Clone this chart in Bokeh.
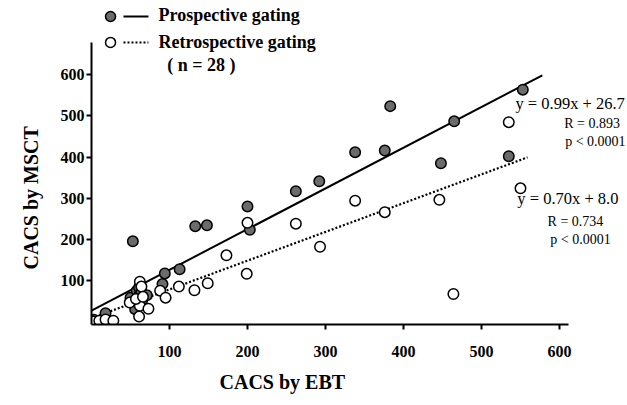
from bokeh.plotting import figure
from bokeh.models import Range1d, FixedTicker, Title
from bokeh.embed import file_html
from bokeh.resources import INLINE
from bokeh.core.properties import value

# ---- data ----
pro_x = [3, 10, 18, 50, 56, 58, 61, 61, 64, 65, 71, 53, 91, 94, 113, 133, 148,
         200, 203, 262, 292, 338, 376, 383, 448, 465, 535, 553]
pro_y = [4, 2, 20, 58, 30, 75, 83, 63, 70, 52, 64, 195, 91, 117, 127, 232, 234,
         280, 223, 317, 341, 412, 416, 524, 385, 487, 402, 564]

retro_x = [2, 10, 18, 28, 49, 62, 64, 62, 73, 61, 57, 66, 88, 95, 112, 132, 149,
           173, 199, 200, 262, 293, 338, 376, 446, 464, 535, 550]
retro_y = [0, 2, 5, 2, 46, 97, 85, 38, 31, 12, 55, 60, 75, 58, 85, 76, 93,
           161, 116, 240, 238, 182, 294, 266, 296, 67, 485, 324]

pro_fit = (0.99, 26.7)      # slope, intercept
retro_fit = (0.70, 8.0)
pro_span = [0, 578]
retro_span = [0, 559]

x_ticks = [100, 200, 300, 400, 500, 600]
y_ticks = [100, 200, 300, 400, 500, 600]

pro_label = "Prospective gating"
retro_label = "Retrospective gating"
n_label = "( n = 28 )"
pro_eq = ["y = 0.99x + 26.7", "R = 0.893", "p < 0.0001"]
retro_eq = ["y = 0.70x + 8.0", "R = 0.734", "p < 0.0001"]
x_title = "CACS by EBT"
y_title = "CACS by MSCT"

FONT = "Liberation Serif"
GRAY = "#6b6b6b"

p = figure(width=627, height=405, output_backend="svg", toolbar_location=None,
           x_range=Range1d(0, 687.2), y_range=Range1d(-7.3, 781.0),
           min_border_left=91, min_border_right=0, min_border_top=0,
           min_border_bottom=81)
p.title.visible = False
p.outline_line_color = None
p.xgrid.visible = False
p.ygrid.visible = False
p.background_fill_color = "white"

for ax, ticks in ((p.xaxis, x_ticks), (p.yaxis, y_ticks)):
    ax.ticker = FixedTicker(ticks=ticks)
    ax.axis_line_width = 2
    ax.axis_line_color = "black"
    ax.major_tick_line_width = 2
    ax.major_tick_line_color = "black"
    ax.major_tick_in = 0
    ax.major_tick_out = 5
    ax.minor_tick_in = 0
    ax.minor_tick_out = 0
    ax.major_label_text_font = FONT
    ax.major_label_text_font_style = "bold"
    ax.major_label_text_font_size = "16px"
    ax.major_label_text_color = "black"
p.xaxis.bounds = (0, 611.5)
p.yaxis.bounds = (-7.3, 679)
p.xaxis.major_label_standoff = 16
p.yaxis.major_label_standoff = 2

# fit lines
px = pro_span
p.line(px, [pro_fit[0] * v + pro_fit[1] for v in px], line_color="black", line_width=2)
rx = retro_span
p.line(rx, [retro_fit[0] * v + retro_fit[1] for v in rx], line_color="black",
       line_width=2.2, line_dash="2 2")

# points
p.scatter(pro_x, pro_y, size=10.5, fill_color=GRAY, line_color="black", line_width=1.5)
p.scatter(retro_x, retro_y, size=10.5, fill_color="white", line_color="black", line_width=1.5)

# legend (top-left)
p.scatter([24.4], [742], size=10, fill_color=GRAY, line_color="black", line_width=1.5)
p.line([41, 73], [742, 742], line_color="black", line_width=2)
p.scatter([24.4], [679], size=10, fill_color="white", line_color="black", line_width=1.5)
p.line([41, 73], [679, 679], line_color="black", line_width=2, line_dash="2 2")
p.text(x=[86, 86, 97], y=[745, 679, 623], text=[pro_label, retro_label, n_label],
       text_font=value(FONT), text_font_style="bold", text_font_size="18px",
       text_baseline="middle", text_color="black")

# equations
p.text(x=[543.6], y=[530], text=[pro_eq[0]], text_font=value(FONT), text_font_size="16.5px",
       text_align="left", text_baseline="middle", text_color="black")
p.text(x=[641.7, 646], y=[482, 438], text=pro_eq[1:], text_font=value(FONT),
       text_font_size="14px", text_align="center", text_baseline="middle", text_color="black")
p.text(x=[546], y=[299], text=[retro_eq[0]], text_font=value(FONT), text_font_size="16.5px",
       text_align="left", text_baseline="middle", text_color="black")
p.text(x=[620.5, 627], y=[243, 200], text=retro_eq[1:], text_font=value(FONT),
       text_font_size="14px", text_align="center", text_baseline="middle", text_color="black")

# axis titles
p.add_layout(Title(text=x_title, align="left", offset=128, standoff=18, text_font=FONT,
                   text_font_style="bold", text_font_size="20px", text_color="black"), "below")
p.add_layout(Title(text=y_title, align="left", offset=55, standoff=32, text_font=FONT,
                   text_font_style="bold", text_font_size="20px", text_color="black"), "left")

open("out.html", "w").write(file_html(p, INLINE))
